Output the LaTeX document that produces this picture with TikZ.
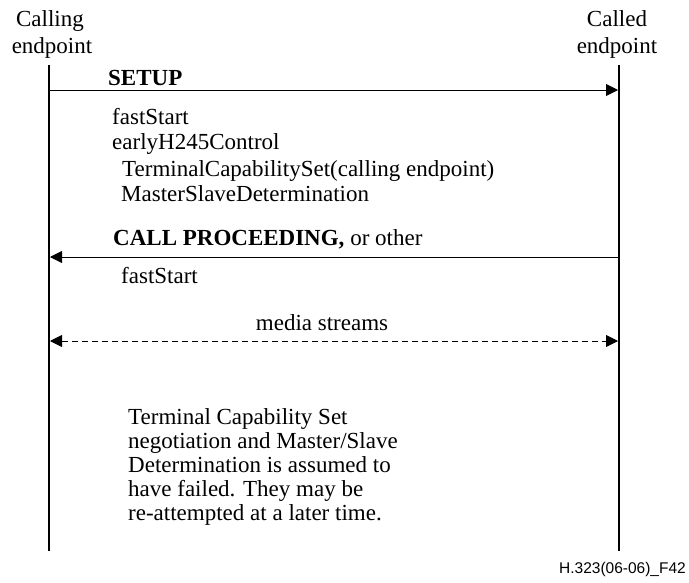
\documentclass[tikz,border=0pt]{standalone}
\usepackage{fontspec}
\setmainfont{Liberation Serif}
\newfontfamily\footfont{Liberation Sans}
\usetikzlibrary{arrows.meta}
\tikzset{
  lbl/.style={inner sep=0pt, font=\fontsize{23}{24}\selectfont, anchor=base west},
  hdr/.style={inner sep=0pt, font=\fontsize{23}{24}\selectfont, anchor=base},
  life/.style={line width=2.6pt},
  tip/.style={-{Triangle[length=12pt,width=12pt]}},
  msg/.style={line width=0.9pt, tip},
  media/.style={line width=0.9pt, dash pattern=on 6pt off 4pt, {Triangle[length=12pt,width=12pt]}-{Triangle[length=12pt,width=12pt]}}
}
\begin{document}
\begin{tikzpicture}[x=1pt,y=-1pt]
\useasboundingbox (0,0) rectangle (689,582);
% headers
\node[hdr] (hA1) at (50,26) {Calling};
\node[hdr] (hA2) at (52,53) {endpoint};
\node[hdr] (hB1) at (617,26) {Called};
\node[hdr] (hB2) at (617,53) {endpoint};
% lifelines
\coordinate (aTop) at (49,65);
\coordinate (aBot) at (49,551);
\coordinate (bTop) at (619,65);
\coordinate (bBot) at (619,551);
\draw[life] (aTop) -- (aBot);
\draw[life] (bTop) -- (bBot);
% SETUP
\coordinate (s1) at (49,90);
\coordinate (s2) at (618,90);
\draw[msg] (s1) -- (s2);
\node[lbl] (setup) at (108,85) {\textbf{SETUP}};
\node[lbl] (f1) at (112,124) {fastStart};
\node[lbl] (f2) at (112,149) {earlyH245Control};
\node[lbl] (f3) at (122,176) {TerminalCapabilitySet(calling endpoint)};
\node[lbl] (f4) at (121,201) {MasterSlaveDetermination};
% CALL PROCEEDING
\coordinate (c1) at (619,257);
\coordinate (c2) at (50,257);
\draw[msg] (c1) -- (c2);
\node[lbl] (cp) at (113,245) {\textbf{CALL PROCEEDING,} or other};
\node[lbl] (f5) at (121,283) {fastStart};
% media
\coordinate (m1) at (50,341);
\coordinate (m2) at (618,341);
\draw[media] (m1) -- (m2);
\node[hdr] (ms) at (322,330) {media streams};
% note
\node[lbl] (n1) at (128,424) {Terminal Capability Set};
\node[lbl] (n2) at (128,448) {negotiation and Master/Slave};
\node[lbl] (n3) at (128,472) {Determination is assumed to};
\node[lbl] (n4) at (128,496) {have failed. They may be};
\node[lbl] (n5) at (128,520) {re-attempted at a later time.};
% footer
\node[inner sep=0pt, anchor=base east, font=\footfont\fontsize{15.5}{17}\selectfont] (ft) at (686,573) {H.323(06-06)\_F42};
\end{tikzpicture}
\end{document}
